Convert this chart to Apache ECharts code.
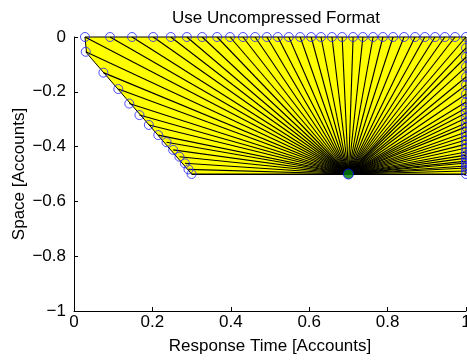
<!DOCTYPE html>
<html>
<head>
<meta charset="utf-8">
<script src="https://cdn.jsdelivr.net/npm/echarts@6/dist/echarts.min.js"></script>
<style>
  html, body { margin: 0; padding: 0; background: #fff; }
  #chart { width: 467px; height: 360px; }
</style>
</head>
<body>
<div id="chart"></div>
<script>
// boundary of the region (polygon vertices)
const polyX = [0.028, 1, 1, 0.3, 0.032]
const polyY = [0, 0, -0.5, -0.5, -0.058]

// boundary points hit by the rays
const topX = [0.028, 0.092, 0.148, 0.202, 0.247, 0.288, 0.327, 0.365, 0.398, 0.431, 0.462,
  0.492, 0.520, 0.548, 0.577, 0.605, 0.630, 0.658, 0.684, 0.712, 0.737, 0.763, 0.788,
  0.814, 0.842, 0.870, 0.895, 0.921, 0.946, 0.972, 1.0]
const leftX = [0.030, 0.075, 0.113, 0.141, 0.167, 0.191, 0.215, 0.236, 0.253, 0.269, 0.283, 0.292, 0.3]
const leftY = [-0.054, -0.13, -0.19, -0.243, -0.285, -0.321, -0.358, -0.384, -0.412, -0.437, -0.461, -0.483, -0.5]
const rightY = [-0.040, -0.073, -0.109, -0.146, -0.175, -0.208, -0.237, -0.259, -0.277, -0.296,
  -0.314, -0.328, -0.347, -0.361, -0.376, -0.391, -0.405, -0.420, -0.431, -0.442, -0.453,
  -0.460, -0.471, -0.478, -0.489, -0.5]

// source point
const srcX = 0.7
const srcY = -0.5

const pts = []
topX.forEach(x => pts.push([x, 0]))
leftX.forEach((x, i) => pts.push([x, leftY[i]]))
rightY.forEach(y => pts.push([1, y]))

const polygon = polyX.map((x, i) => [x, polyY[i]])
const font = 'Liberation Sans, Arial, Helvetica, sans-serif'
const fs = 17
const fmt = v => String(v).replace('-', '\u2212')

const chart = echarts.init(document.getElementById('chart'))
chart.setOption({
  animation: false,
  title: {
    text: 'Use Uncompressed Format',
    left: 271,
    top: 5,
    textAlign: 'center',
    textStyle: { fontFamily: font, fontSize: fs, fontWeight: 'normal', color: '#000' }
  },
  grid: { left: 74, right: 1, top: 37, bottom: 49, containLabel: false, outerBoundsMode: 'none' },
  xAxis: {
    type: 'value',
    min: 0, max: 1, interval: 0.2,
    name: 'Response Time [Accounts]',
    nameLocation: 'middle',
    nameGap: 27,
    nameMoveOverlap: false,
    nameTextStyle: { fontFamily: font, fontSize: fs, color: '#000' },
    axisLine: { show: true, onZero: false, lineStyle: { color: '#000', width: 1 } },
    axisTick: { show: true, inside: true, length: 4, lineStyle: { color: '#000' } },
    axisLabel: { fontFamily: font, fontSize: fs, color: '#000', margin: 3, formatter: fmt, showMaxLabel: true, hideOverlap: false },
    splitLine: { show: false }
  },
  yAxis: {
    type: 'value',
    min: -1, max: 0, interval: 0.2,
    name: 'Space [Accounts]',
    nameLocation: 'middle',
    nameGap: 46,
    nameMoveOverlap: false,
    nameTextStyle: { fontFamily: font, fontSize: fs, color: '#000' },
    axisLine: { show: true, onZero: false, lineStyle: { color: '#000', width: 1 } },
    axisTick: { show: true, inside: true, length: 4, lineStyle: { color: '#000' } },
    axisLabel: { fontFamily: font, fontSize: fs, color: '#000', margin: 8, formatter: fmt },
    splitLine: { show: false }
  },
  series: [
    {
      type: 'custom',
      silent: true,
      clip: false,
      data: [0],
      renderItem: (params, api) => ({
        type: 'polygon',
        shape: { points: polygon.map(p => api.coord(p)) },
        style: { fill: '#ffff00', stroke: '#000', lineWidth: 1 }
      }),
      z: 1
    },
    {
      type: 'lines',
      coordinateSystem: 'cartesian2d',
      silent: true,
      data: pts.map(p => ({ coords: [[srcX, srcY], p] })),
      lineStyle: { color: '#000', width: 1.1, opacity: 1 },
      z: 2
    },
    {
      type: 'scatter',
      silent: true,
      clip: false,
      data: pts,
      symbol: 'circle',
      symbolSize: 9,
      itemStyle: { color: 'rgba(0,0,0,0)', borderColor: '#2020ff', borderWidth: 1 },
      z: 3
    },
    {
      type: 'scatter',
      silent: true,
      clip: false,
      data: [[srcX, srcY]],
      symbol: 'circle',
      symbolSize: 10,
      itemStyle: { color: '#008000', borderColor: '#0000ff', borderWidth: 1 },
      z: 4
    }
  ]
})
</script>
</body>
</html>
